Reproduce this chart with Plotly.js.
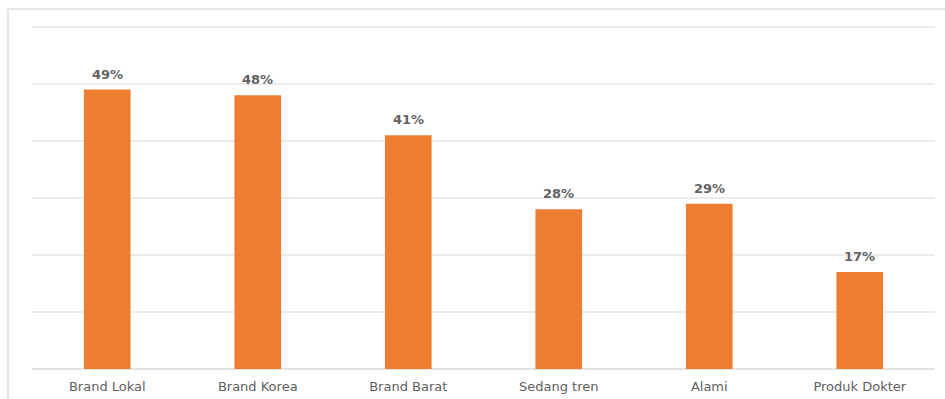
<!DOCTYPE html>
<html>
<head>
<meta charset="utf-8">
<script src="https://cdn.plot.ly/plotly-3.0.1.min.js"></script>
<style>html,body{margin:0;padding:0;background:#fff;}#chart{width:945px;height:399px;}</style>
</head>
<body>
<div id="chart"></div>
<script>
const categories = ["Brand Lokal", "Brand Korea", "Brand Barat", "Sedang tren", "Alami", "Produk Dokter"];
const values = [49, 48, 41, 28, 29, 17];
const valueLabels = ["49%", "48%", "41%", "28%", "29%", "17%"];
const gridValues = [10, 20, 30, 40, 50, 60];

const trace = {
  type: "bar",
  x: categories,
  y: values,
  marker: {color: "#ED7D31"},
  hoverinfo: "none"
};

const annotations = categories.map((c, i) => ({
  x: c, y: values[i], xref: "x", yref: "y",
  text: valueLabels[i], showarrow: false,
  yanchor: "bottom", yshift: 6,
  font: {family: "DejaVu Sans", size: 13, color: "#636363", weight: 600}
}));

const L = 32, R = 10, T = 24, B = 30, W = 945, H = 399;
const pw = W - L - R, ph = H - T - B;
const px = v => (v - L) / pw;
const py = v => (H - B - v) / ph;

const shapes = [
  {type: "line", xref: "paper", yref: "paper", x0: px(8), x1: px(945), y0: py(9), y1: py(9), line: {color: "#dedede", width: 1.5}},
  {type: "line", xref: "paper", yref: "paper", x0: px(8), x1: px(8), y0: py(9), y1: py(399), line: {color: "#dedede", width: 1.5}}
];

const layout = {
  width: W, height: H,
  margin: {l: L, r: R, t: T, b: B, pad: 0},
  paper_bgcolor: "#fff", plot_bgcolor: "#fff",
  showlegend: false,
  bargap: 0.69,
  xaxis: {
    showgrid: false, showline: false, zeroline: false, ticks: "",
    ticklabelstandoff: 8,
    tickfont: {family: "DejaVu Sans", size: 13, color: "#606060"},
    fixedrange: true
  },
  yaxis: {
    range: [0, 60.5], tickvals: gridValues, showticklabels: false,
    showgrid: true, gridcolor: "#ebebeb", gridwidth: 2,
    zeroline: true, zerolinecolor: "#e3e3e3", zerolinewidth: 2,
    fixedrange: true
  },
  annotations: annotations,
  shapes: shapes
};

Plotly.newPlot("chart", [trace], layout, {displayModeBar: false, staticPlot: true});
</script>
</body>
</html>
